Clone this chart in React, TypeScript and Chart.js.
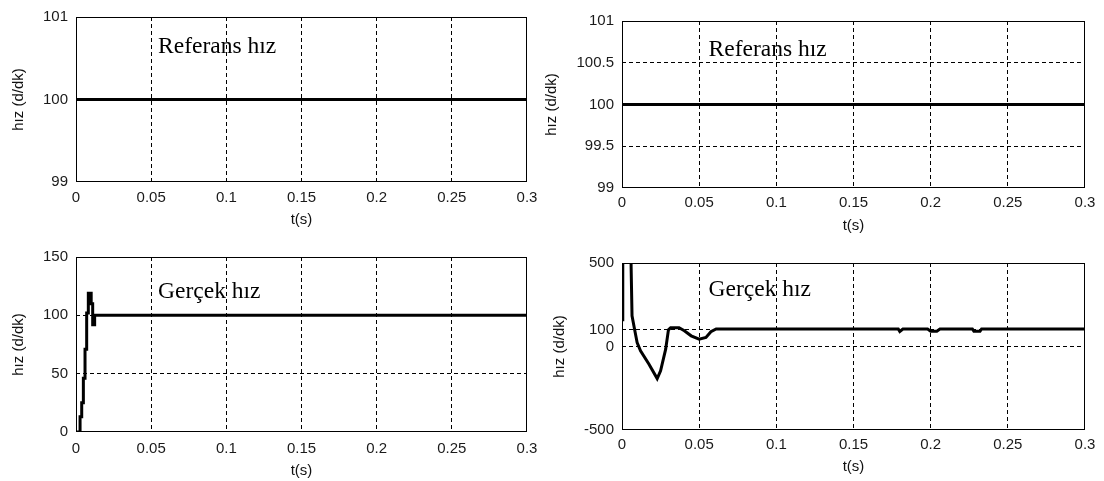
import React, { useEffect, useRef } from 'react';
import { Chart, registerables } from 'chart.js';

Chart.register(...registerables);

// ---- data ----
const timeTicks = [0, 0.05, 0.1, 0.15, 0.2, 0.25, 0.3];
const timeTickLabels = ['0', '0.05', '0.1', '0.15', '0.2', '0.25', '0.3'];

const refTime = [0, 0.3];
const refSpeed = [100, 100];

const tlYTicks = [99, 100, 101];
const tlYLabels = ['99', '100', '101'];
const trYTicks = [99, 99.5, 100, 100.5, 101];
const trYLabels = ['99', '99.5', '100', '100.5', '101'];
const blYTicks = [0, 50, 100, 150];
const blYLabels = ['0', '50', '100', '150'];
const brYTicks = [-500, 0, 100, 500];
const brYLabels = ['-500', '0', '100', '500'];

const blTime = [0, 0.0027, 0.0038, 0.0049, 0.006, 0.0071, 0.0082, 0.0101, 0.0111, 0.0124, 0.3];
const blSpeed = [0, 13, 25, 46, 71, 102, 119, 110, 92, 100, 100];

const brTime = [0, 0.0004, 0.0006, 0.0055, 0.0059, 0.0065, 0.0082, 0.0098, 0.012, 0.0174, 0.0228, 0.025, 0.0283, 0.0301, 0.0315, 0.037, 0.0404, 0.0448, 0.05, 0.0544, 0.0576, 0.061, 0.179, 0.18, 0.182, 0.198, 0.2, 0.204, 0.206, 0.227, 0.228, 0.232, 0.233, 0.3];
const brSpeed = [160, 700, 1500, 1500, 480, 184, 100, 24, -26, -105, -192, -146, -16, 100, 112, 112, 94, 64, 44, 54, 88, 105, 105, 90, 105, 105, 92, 92, 105, 105, 92, 92, 105, 105];

const yTitle = 'hız (d/dk)';
const xTitle = 't(s)';

// ---- layout ----
type Panel = {
  left: number; top: number; width: number; height: number;
  yWidth: number; xHeight: number; padTop: number; padRight: number; padBottom: number;
  yTitlePad: number; xTitlePad: number; xTickPad: number;
  yMin: number; yMax: number; yTicks: number[]; yLabels: string[];
  time: number[]; speed: number[]; stepped: boolean;
  note: string; noteFx: number; noteFy: number;
};

const panels: Panel[] = [
  { left: 0, top: 0, width: 552, height: 240, yWidth: 76, xHeight: 52, padTop: 16, padRight: 25, padBottom: 6,
    yTitlePad: 10, xTitlePad: 5, xTickPad: 7, yMin: 99, yMax: 101, yTicks: tlYTicks, yLabels: tlYLabels,
    time: refTime, speed: refSpeed, stepped: false, note: 'Referans hız', noteFx: 0.182, noteFy: 0.217 },
  { left: 540, top: 0, width: 564, height: 240, yWidth: 82, xHeight: 47, padTop: 21, padRight: 19, padBottom: 5,
    yTitlePad: 3, xTitlePad: 0, xTickPad: 6, yMin: 99, yMax: 101, yTicks: trYTicks, yLabels: trYLabels,
    time: refTime, speed: refSpeed, stepped: false, note: 'Referans hız', noteFx: 0.187, noteFy: 0.21 },
  { left: 0, top: 240, width: 552, height: 241, yWidth: 76, xHeight: 49, padTop: 15, padRight: 25, padBottom: 0,
    yTitlePad: 10, xTitlePad: 1, xTickPad: 8, yMin: 0, yMax: 150, yTicks: blYTicks, yLabels: blYLabels,
    time: blTime, speed: blSpeed, stepped: true, note: 'Gerçek hız', noteFx: 0.182, noteFy: 0.237 },
  { left: 540, top: 240, width: 564, height: 241, yWidth: 82, xHeight: 51, padTop: 23, padRight: 19, padBottom: 0,
    yTitlePad: 11, xTitlePad: 5, xTickPad: 6, yMin: -500, yMax: 500, yTicks: brYTicks, yLabels: brYLabels,
    time: brTime, speed: brSpeed, stepped: false, note: 'Gerçek hız', noteFx: 0.187, noteFy: 0.2 },
];

const tickFont = { family: '"Liberation Sans", Arial, sans-serif', size: 15 };
const titleFont = { family: '"Liberation Sans", Arial, sans-serif', size: 15 };
const tickColor = '#1a1a1a';

const framePlugin = {
  id: 'frame',
  afterDatasetsDraw(chart: any) {
    const { ctx, chartArea } = chart;
    const { left, top, right, bottom } = chartArea;
    ctx.save();
    ctx.strokeStyle = '#000';
    ctx.lineWidth = 1;
    ctx.setLineDash([]);
    ctx.strokeRect(left + 0.5, top + 0.5, right - left - 1, bottom - top - 1);
    ctx.restore();
  },
};

const notePlugin = {
  id: 'note',
  afterDraw(chart: any, _args: any, opts: any) {
    const { ctx, chartArea } = chart;
    const { left, top, right, bottom } = chartArea;
    ctx.save();
    ctx.fillStyle = '#000';
    ctx.font = '23.5px "Liberation Serif", "Times New Roman", serif';
    ctx.textBaseline = 'alphabetic';
    ctx.textAlign = 'left';
    ctx.fillText(opts.text, left + opts.fx * (right - left), top + opts.fy * (bottom - top));
    ctx.restore();
  },
};

function gridColor(min: number, max: number) {
  return (c: any) => {
    const v = c.tick ? c.tick.value : null;
    if (v === null || Math.abs(v - min) < 1e-9 || Math.abs(v - max) < 1e-9) return 'rgba(0,0,0,0)';
    return '#000';
  };
}

function PanelChart({ p }: { p: Panel }) {
  const ref = useRef<HTMLCanvasElement>(null);
  useEffect(() => {
    if (!ref.current) return;
    const points = p.time.map((t, i) => ({ x: t, y: p.speed[i] }));
    const chart = new Chart(ref.current, {
      type: 'line',
      data: {
        datasets: [{
          data: points,
          borderColor: '#000',
          borderWidth: 3,
          pointRadius: 0,
          tension: 0,
          fill: false,
          stepped: p.stepped ? 'before' : false,
          clip: 0,
        } as any],
      },
      options: {
        animation: false,
        responsive: false,
        events: [],
        layout: { padding: { left: 0, top: p.padTop, right: p.padRight, bottom: p.padBottom } },
        plugins: {
          legend: { display: false },
          tooltip: { enabled: false },
          note: { text: p.note, fx: p.noteFx, fy: p.noteFy },
        } as any,
        scales: {
          x: {
            type: 'linear',
            min: 0,
            max: 0.3,
            afterBuildTicks: (s: any) => { s.ticks = timeTicks.map((v) => ({ value: v })); },
            afterFit: (s: any) => { s.height = p.xHeight; },
            ticks: {
              autoSkip: false,
              maxRotation: 0,
              padding: p.xTickPad,
              font: tickFont,
              color: tickColor,
              callback: (_v: any, i: number) => timeTickLabels[i],
            },
            grid: { color: gridColor(0, 0.3), lineWidth: 1, drawTicks: false },
            border: { display: false, dash: [4, 3] },
            title: { display: true, text: xTitle, font: titleFont, color: '#111', padding: { top: 0, bottom: p.xTitlePad } },
          },
          y: {
            type: 'linear',
            min: p.yMin,
            max: p.yMax,
            afterBuildTicks: (s: any) => { s.ticks = p.yTicks.map((v) => ({ value: v })); },
            afterFit: (s: any) => { s.width = p.yWidth; },
            ticks: {
              autoSkip: false,
              padding: 8,
              font: tickFont,
              color: tickColor,
              callback: (_v: any, i: number) => p.yLabels[i],
            },
            grid: { color: gridColor(p.yMin, p.yMax), lineWidth: 1, drawTicks: false },
            border: { display: false, dash: [4, 3] },
            title: { display: true, text: yTitle, font: titleFont, color: '#111', padding: { top: p.yTitlePad, bottom: 0 } },
          },
        } as any,
      },
      plugins: [framePlugin, notePlugin],
    });
    return () => chart.destroy();
  }, [p]);
  return (
    <canvas
      ref={ref}
      width={p.width}
      height={p.height}
      style={{ position: 'absolute', left: p.left, top: p.top, width: p.width, height: p.height, display: 'block' }}
    />
  );
}

export default function App() {
  return (
    <div style={{ position: 'absolute', left: 0, top: 0, width: 1104, height: 481, background: '#fff' }}>
      {panels.map((p, i) => (
        <PanelChart key={i} p={p} />
      ))}
    </div>
  );
}
